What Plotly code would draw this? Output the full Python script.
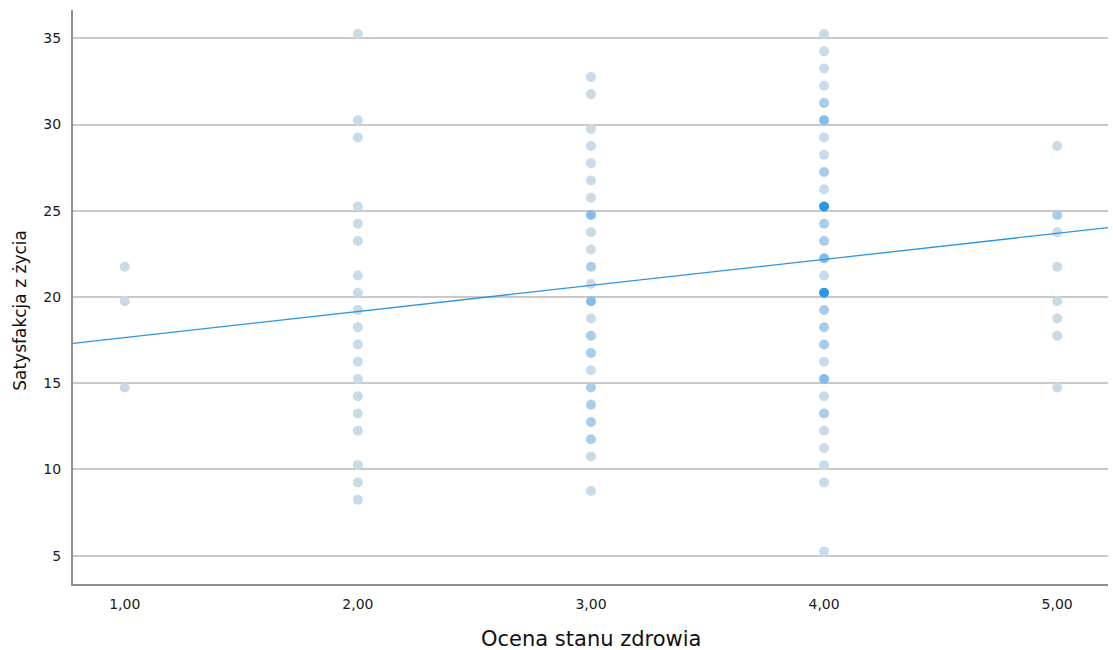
import plotly.graph_objects as go

# Health self-rating groups and life-satisfaction scores, with how many
# respondents share each (rating, score) pair.
rating_1 = [21.75, 19.75, 14.75]
count_1 = [1, 1, 1]

rating_2 = [35.25, 30.25, 29.25, 25.25, 24.25, 23.25, 21.25, 20.25, 19.25,
            18.25, 17.25, 16.25, 15.25, 14.25, 13.25, 12.25, 10.25, 9.25, 8.25]
count_2 = [1] * len(rating_2)

rating_3 = [32.75, 31.75, 29.75, 28.75, 27.75, 26.75, 25.75, 24.75, 23.75,
            22.75, 21.75, 20.75, 19.75, 18.75, 17.75, 16.75, 15.75, 14.75,
            13.75, 12.75, 11.75, 10.75, 8.75]
count_3 = [1, 1, 1, 1, 1, 1, 1, 3, 1,
           1, 2, 1, 3, 1, 2, 2, 1, 2,
           2, 2, 2, 1, 1]

rating_4 = [35.25, 34.25, 33.25, 32.25, 31.25, 30.25, 29.25, 28.25, 27.25,
            26.25, 25.25, 24.25, 23.25, 22.25, 21.25, 20.25, 19.25, 18.25,
            17.25, 16.25, 15.25, 14.25, 13.25, 12.25, 11.25, 10.25, 9.25, 5.25]
count_4 = [1, 1, 1, 1, 2, 3, 1, 1, 2,
           1, 5, 2, 2, 3, 1, 5, 2, 2,
           2, 1, 3, 1, 2, 1, 1, 1, 1, 1]

rating_5 = [28.75, 24.75, 23.75, 21.75, 19.75, 18.75, 17.75, 14.75]
count_5 = [1, 2, 1, 1, 1, 1, 1, 1]

x_tick_values = [1, 2, 3, 4, 5]
x_tick_labels = ["1,00", "2,00", "3,00", "4,00", "5,00"]
y_tick_values = [5, 10, 15, 20, 25, 30, 35]

# Linear fit (total) coefficients
fit_intercept = 16.14
fit_slope = 1.51

X_RANGE = [0.778, 5.218]
Y_RANGE = [3.36, 36.64]

xs, ys, ns = [], [], []
for rating, scores, counts in [(1, rating_1, count_1), (2, rating_2, count_2),
                               (3, rating_3, count_3), (4, rating_4, count_4),
                               (5, rating_5, count_5)]:
    xs += [rating] * len(scores)
    ys += scores
    ns += counts

fig = go.Figure()

fig.add_trace(go.Scatter(
    x=xs, y=ys, mode="markers",
    marker=dict(
        size=10,
        color=ns,
        cmin=1, cmax=5,
        colorscale=[[0.0, "#c8dbe9"], [0.25, "#a8cdea"], [0.5, "#84bde9"],
                    [1.0, "#2a95e6"]],
        line=dict(width=0),
        showscale=False,
    ),
    hoverinfo="x+y",
    showlegend=False,
))

fit_x = X_RANGE
fit_y = [fit_intercept + fit_slope * v for v in fit_x]
fig.add_trace(go.Scatter(
    x=fit_x, y=fit_y, mode="lines",
    line=dict(color="#2a95e6", width=1.3),
    hoverinfo="skip",
    showlegend=False,
))

font_family = "DejaVu Sans, Verdana, sans-serif"

fig.update_layout(
    width=1113, height=650,
    margin=dict(l=73, r=5, t=10, b=66),
    paper_bgcolor="white",
    plot_bgcolor="white",
    font=dict(family=font_family, color="#1a1a1a", size=14),
    xaxis=dict(
        range=X_RANGE,
        tickmode="array",
        tickvals=x_tick_values,
        ticktext=x_tick_labels,
        showgrid=False,
        zeroline=False,
        showline=True,
        linecolor="#8f8f8f",
        linewidth=2,
        ticks="",
        ticklabelstandoff=6,
        tickfont=dict(size=14, color="#1a1a1a"),
    ),
    yaxis=dict(
        range=Y_RANGE,
        tickmode="array",
        tickvals=y_tick_values,
        showgrid=True,
        gridcolor="#c9c9c9",
        gridwidth=1.6,
        zeroline=False,
        showline=True,
        linecolor="#8f8f8f",
        linewidth=2,
        ticks="",
        ticklabelstandoff=7,
        tickfont=dict(size=14, color="#1a1a1a"),
    ),
    annotations=[
        dict(text="Ocena stanu zdrowia", xref="paper", yref="paper",
             x=0.5, y=0, xanchor="center", yanchor="middle", yshift=-55,
             showarrow=False, font=dict(size=21, color="#111111")),
        dict(text="Satysfakcja z życia", xref="paper", yref="paper",
             x=0, y=0.476, xanchor="center", yanchor="middle", xshift=-53,
             textangle=-90, showarrow=False,
             font=dict(size=17, color="#111111")),
    ],
)

fig.write_html("out.html")
